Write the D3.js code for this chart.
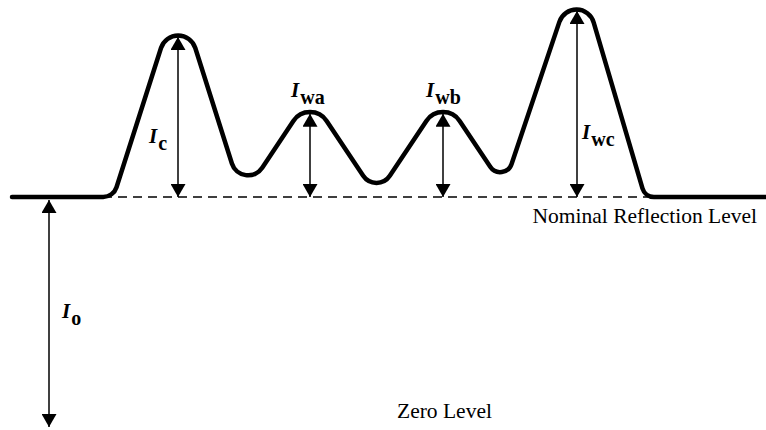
<!DOCTYPE html>
<html>
<head>
<meta charset="utf-8">
<title>Reflection levels</title>
<script src="https://d3js.org/d3.v7.min.js"></script>
<style>
  body { margin: 0; background: #fff; }
  .trace { fill: none; stroke: #000; stroke-width: 4.5px; stroke-linejoin: round; stroke-linecap: round; }
  .nominal { stroke: #000; stroke-width: 1.6px; stroke-dasharray: 9,6; }
  .dim { stroke: #000; stroke-width: 1.5px; }
</style>
</head>
<body>
<div id="chart"></div>
<script>
var width = 766, height = 430;
var serif = "'Liberation Serif', serif";

// reflection trace as corner points (zero level = 0, nominal = 100) and corner rounding
var tracePos = [12, 113.4, 178.2, 242.6, 310, 376.5, 443, 503.8, 577.6, 645, 766];
var traceInt = [100, 100, 188.2, 99.9, 143.9, 100.5, 143.9, 104.3, 199.7, 100, 100];
var cornerR  = [0, 14, 18, 17, 20, 16, 20, 12, 18, 12, 0];

var nominalLevel = 100;
var zeroLevel = 0;

// measured intensities (double arrows)
var dimNames = ["c", "wa", "wb", "wc", "o"];
var dimPos = [178, 310, 443, 577, 49];
var dimTop = [169.6, 136.2, 136.2, 180.9, 98.7];
var dimBottom = [100, 100, 100, 100, 0];

// label anchor (position, intensity at baseline of the I)
var labelPos = [149, 291, 426, 582, 62];
var labelInt = [123.5, 143.5, 143.5, 125.2, 47.4];

var x = d3.scaleLinear().domain([0, 766]).range([0, width]);
var y = d3.scaleLinear().domain([0, 100]).range([427, 197]);

var svg = d3.select("#chart").append("svg")
  .attr("width", width)
  .attr("height", height);

svg.append("defs").append("marker")
  .attr("id", "head")
  .attr("viewBox", "0 0 13 15")
  .attr("refX", 13).attr("refY", 7.5)
  .attr("markerWidth", 13).attr("markerHeight", 15)
  .attr("markerUnits", "userSpaceOnUse")
  .attr("orient", "auto-start-reverse")
  .append("path")
  .attr("d", "M0,0 L13,7.5 L0,15 Z")
  .attr("fill", "#000");

// nominal reflection level (dashed)
svg.append("line")
  .attr("class", "nominal")
  .attr("x1", x(103)).attr("x2", x(655))
  .attr("y1", y(nominalLevel)).attr("y2", y(nominalLevel));

// trace: straight runs with rounded corners
var p = d3.path();
var n = tracePos.length;
p.moveTo(x(tracePos[0]), y(traceInt[0]));
for (var i = 1; i < n - 1; i++) {
  p.arcTo(x(tracePos[i]), y(traceInt[i]), x(tracePos[i + 1]), y(traceInt[i + 1]), cornerR[i]);
}
p.lineTo(x(tracePos[n - 1]), y(traceInt[n - 1]));

svg.append("path")
  .attr("class", "trace")
  .attr("d", p.toString());

// double headed arrows + labels
dimNames.forEach(function(nm, i) {
  svg.append("line")
    .attr("class", "dim")
    .attr("x1", x(dimPos[i])).attr("x2", x(dimPos[i]))
    .attr("y1", y(dimBottom[i])).attr("y2", y(dimTop[i]))
    .attr("marker-start", "url(#head)")
    .attr("marker-end", "url(#head)");

  var t = svg.append("text")
    .style("font-family", serif)
    .attr("x", x(labelPos[i]))
    .attr("y", y(labelInt[i]));
  t.append("tspan")
    .style("font-size", "21px").style("font-weight", "bold").style("font-style", "italic")
    .text("I");
  t.append("tspan")
    .style("font-size", "20px").style("font-weight", "bold")
    .attr("dx", 1).attr("dy", 7)
    .text(nm);
});

svg.append("text")
  .style("font-family", serif)
  .style("font-size", "21.5px")
  .attr("x", x(757)).attr("y", 223)
  .attr("text-anchor", "end")
  .text("Nominal Reflection Level");

svg.append("text")
  .style("font-family", serif)
  .style("font-size", "21.5px")
  .attr("x", x(397)).attr("y", 418)
  .text("Zero Level");
</script>
</body>
</html>
